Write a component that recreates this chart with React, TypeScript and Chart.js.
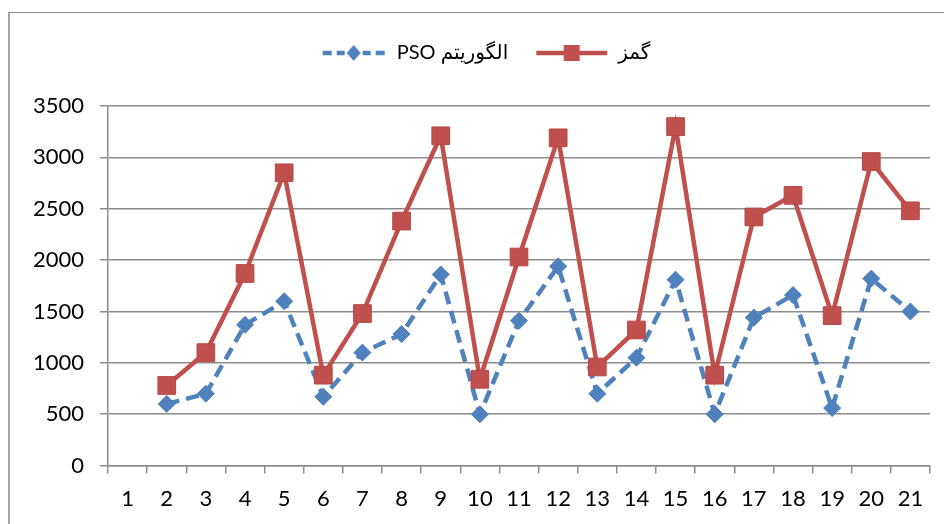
import React, { useEffect, useRef } from 'react';
import { Chart, registerables } from 'chart.js';

Chart.register(...registerables);

const categories = ['1', '2', '3', '4', '5', '6', '7', '8', '9', '10', '11', '12', '13', '14', '15', '16', '17', '18', '19', '20', '21'];
const gamzName = 'گمز';
const psoName = 'الگوریتم PSO';
const gamzValues = [null, 780, 1100, 1870, 2850, 880, 1480, 2380, 3210, 840, 2030, 3190, 960, 1320, 3300, 880, 2420, 2630, 1460, 2960, 2480];
const psoValues = [null, 600, 700, 1370, 1600, 670, 1100, 1280, 1860, 500, 1410, 1940, 700, 1050, 1810, 500, 1440, 1660, 560, 1820, 1500];
const yMin = 0;
const yMax = 3500;
const yStep = 500;

const RED = '#C0504D';
const BLUE = '#4F81BD';
const GRID = '#8C8C8C';
const FONT = "Lato, 'DejaVu Sans', sans-serif";

function makeLegendImage(kind: 'red' | 'blue'): HTMLCanvasElement {
  const c = document.createElement('canvas');
  c.width = 90;
  c.height = 22;
  const ctx = c.getContext('2d')!;
  ctx.lineWidth = 4.5;
  if (kind === 'red') {
    ctx.strokeStyle = RED;
    ctx.beginPath();
    ctx.moveTo(18, 11);
    ctx.lineTo(89, 11);
    ctx.stroke();
    ctx.fillStyle = RED;
    ctx.fillRect(45.5, 3, 16, 16);
  } else {
    ctx.strokeStyle = BLUE;
    ctx.setLineDash([9, 5]);
    ctx.beginPath();
    ctx.moveTo(26, 11);
    ctx.lineTo(48, 11);
    ctx.stroke();
    ctx.beginPath();
    ctx.moveTo(88, 11);
    ctx.lineTo(66, 11);
    ctx.stroke();
    ctx.setLineDash([]);
    ctx.fillStyle = BLUE;
    ctx.beginPath();
    ctx.moveTo(57, 3);
    ctx.lineTo(64, 11);
    ctx.lineTo(57, 19);
    ctx.lineTo(50, 11);
    ctx.closePath();
    ctx.fill();
  }
  return c;
}

const legendGap = {
  id: 'legendGap',
  beforeInit(chart: any) {
    const legend = chart.legend;
    if (!legend) return;
    const orig = legend.fit;
    legend.fit = function () {
      orig.call(this);
      this.height += 33;
    };
  },
};

export default function App() {
  const ref = useRef<HTMLCanvasElement | null>(null);

  useEffect(() => {
    if (!ref.current) return;
    const images = [makeLegendImage('red'), makeLegendImage('blue')];
    const chart = new Chart(ref.current, {
      type: 'line',
      data: {
        labels: categories,
        datasets: [
          {
            label: gamzName,
            data: gamzValues,
            borderColor: RED,
            backgroundColor: RED,
            borderWidth: 4.5,
            pointStyle: 'rect',
            pointRadius: 12.5,
            pointBackgroundColor: RED,
            pointBorderColor: '#B84744',
            pointBorderWidth: 1,
            tension: 0,
            fill: false,
          },
          {
            label: psoName,
            data: psoValues,
            borderColor: BLUE,
            backgroundColor: BLUE,
            borderWidth: 4.5,
            borderDash: [13, 7],
            pointStyle: 'rectRot',
            pointRadius: 8.5,
            pointBackgroundColor: BLUE,
            pointBorderColor: BLUE,
            pointBorderWidth: 1,
            tension: 0,
            fill: false,
          },
        ],
      },
      options: {
        responsive: false,
        animation: false,
        events: [],
        layout: { padding: { left: 17, right: 14, top: 33, bottom: 0 } },
        plugins: {
          tooltip: { enabled: false },
          legend: {
            position: 'top',
            reverse: true,
            textDirection: 'rtl',
            labels: {
              usePointStyle: true,
              pointStyleWidth: 90,
              padding: 10,
              color: '#000',
              font: { family: FONT, size: 20 },
              generateLabels: (c: any) => {
                const items = (Chart.defaults as any).plugins.legend.labels.generateLabels(c);
                return items.map((it: any) => ({ ...it, pointStyle: images[it.datasetIndex] }));
              },
            },
          },
        },
        scales: {
          x: {
            type: 'category',
            offset: true,
            grid: {
              offset: true,
              drawOnChartArea: false,
              drawTicks: true,
              tickLength: 8,
              color: GRID,
              lineWidth: 1.5,
            },
            border: { color: GRID, width: 1.5 },
            ticks: {
              color: '#000',
              font: { family: FONT, size: 22 },
              padding: 12,
              maxRotation: 0,
              autoSkip: false,
            },
          },
          y: {
            min: yMin,
            max: yMax,
            ticks: {
              stepSize: yStep,
              color: '#000',
              font: { family: FONT, size: 22 },
              padding: 16,
              callback: (v: any) => String(v),
            },
            grid: {
              color: GRID,
              lineWidth: 1.5,
              tickLength: 8,
              drawTicks: true,
            },
            border: { color: GRID, width: 1.5 },
          },
        },
      },
      plugins: [legendGap],
    } as any);
    return () => chart.destroy();
  }, []);

  return (
    <div style={{ position: 'fixed', left: 0, top: 0, width: 944, height: 524, overflow: 'hidden', background: '#fff' }}>
      <div
        style={{
          position: 'absolute',
          left: 8,
          top: 12,
          width: 1000,
          height: 600,
          borderLeft: '2px solid #A6A6A6',
          borderTop: '1.5px solid #8C8C8C',
        }}
      />
      <canvas ref={ref} width={944} height={524} style={{ position: 'absolute', left: 0, top: 0 }} />
    </div>
  );
}
